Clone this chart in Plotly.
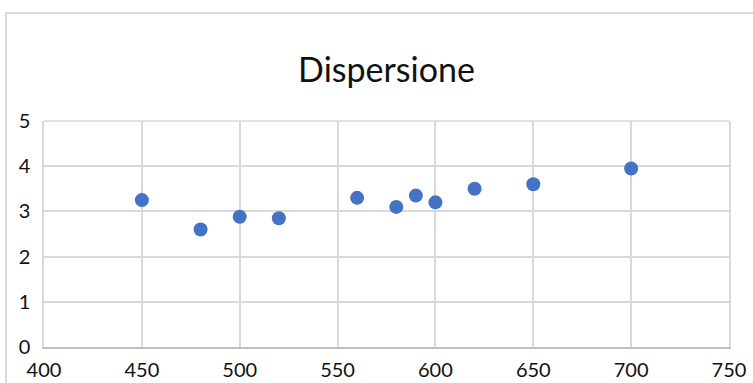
import plotly.graph_objects as go

x_values = [450, 480, 500, 520, 560, 580, 590, 600, 620, 650, 700]
y_values = [3.25, 2.6, 2.88, 2.85, 3.3, 3.1, 3.35, 3.2, 3.5, 3.6, 3.95]
chart_title = "Dispersione"

FONT = "Lato, 'Open Sans', sans-serif"

W, H = 753, 383
L, R, T, B = 44, 24, 121, 36

fig = go.Figure(
    go.Scatter(
        x=x_values,
        y=y_values,
        mode="markers",
        marker=dict(color="#4472C4", size=14, line=dict(width=0)),
        showlegend=False,
        cliponaxis=False,
    )
)

pw = W - L - R
ph = H - T - B

fig.update_layout(
    width=W,
    height=H,
    margin=dict(l=L, r=R, t=T, b=B, autoexpand=False),
    paper_bgcolor="white",
    plot_bgcolor="white",
    title=dict(
        text=chart_title,
        font=dict(family=FONT, size=34, color="#111111"),
        x=(L + pw / 2) / W,
        xanchor="center",
        y=1 - 70 / H,
        yanchor="middle",
    ),
    font=dict(family=FONT, size=20, color="#111111"),
    shapes=[
        dict(
            type="rect",
            xref="paper",
            yref="paper",
            x0=(6 - L) / pw,
            x1=1.2,
            y0=-0.3,
            y1=(T + ph - 13) / ph,
            line=dict(color="#d9d9d9", width=2),
            layer="below",
        ),
        dict(
            type="line",
            xref="paper",
            yref="paper",
            x0=0,
            x1=1,
            y0=1,
            y1=1,
            line=dict(color="#d9d9d9", width=1.5),
            layer="below",
        ),
    ],
)

fig.update_xaxes(
    range=[400, 750],
    dtick=50,
    tick0=400,
    showgrid=True,
    gridcolor="#d9d9d9",
    gridwidth=1.5,
    zeroline=False,
    showline=True,
    linecolor="#bfbfbf",
    linewidth=1.5,
    ticks="",
    ticklabelstandoff=4,
    automargin=False,
)
fig.update_yaxes(
    range=[0, 5],
    dtick=1,
    showgrid=True,
    gridcolor="#d9d9d9",
    gridwidth=1.5,
    zeroline=False,
    showline=True,
    mirror=True,
    linecolor="#d9d9d9",
    linewidth=1.5,
    ticks="",
    ticklabelstandoff=8,
    automargin=False,
)

fig.write_html(
    "out.html",
    config={"displayModeBar": False},
    post_script="document.body.style.margin='0';document.body.style.overflow='hidden';",
)
